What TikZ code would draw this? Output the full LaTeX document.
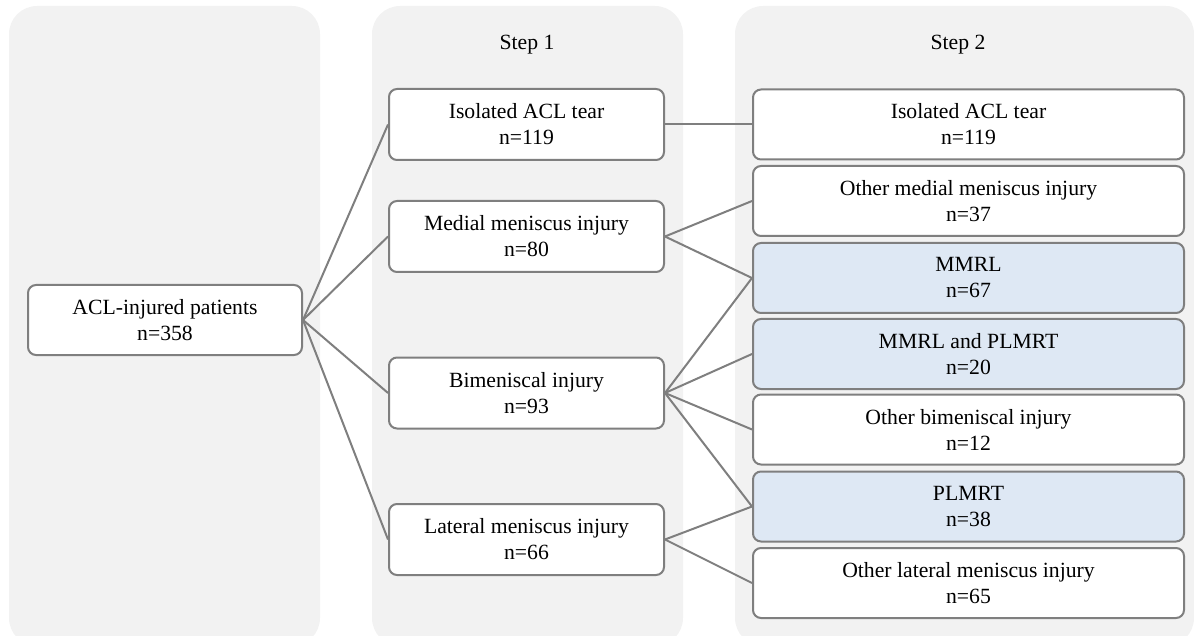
\documentclass[tikz,border=0pt]{standalone}
\usepackage{fontspec}
\setmainfont{Liberation Serif}
\definecolor{panelgray}{HTML}{F2F2F2}
\definecolor{linegray}{HTML}{7F7F7F}
\definecolor{pickblue}{HTML}{DEE8F4}
\tikzset{
  panel/.style={fill=panelgray, draw=none, rounded corners=28pt},
  box/.style={draw=linegray, line width=2pt, fill=white, rounded corners=8pt,
    align=center, inner sep=0pt, font=\fontsize{21.7}{26}\selectfont},
  bluebox/.style={box, fill=pickblue},
  link/.style={draw=linegray, line width=2pt}
}
\begin{document}
\begin{tikzpicture}[x=1pt,y=-1pt]
            \useasboundingbox (0,0) rectangle (1194,636);
            \begin{scope}
            \clip (0,0) rectangle (1194,636);
            \path [panel] (9,6) rectangle (320,646);
            \path [panel] (372,6) rectangle (683,646);
            \path [panel] (735,6) rectangle (1194,646);
            \end{scope}
            \node [font=\fontsize{21.7}{26}\selectfont] (title1) at (527,45) {Step 1};
            \node [font=\fontsize{21.7}{26}\selectfont] (title2) at (958,45) {Step 2};
            % all patients
            \node [box, minimum width=274pt, minimum height=70pt] (all) at (165,320) {ACL-injured patients\\n=358};
            % step 1
            \node [box, minimum width=275pt, minimum height=71pt] (iso) at (526.5,124.5) {Isolated ACL tear\\n=119};
            \node [box, minimum width=275pt, minimum height=71pt] (med) at (526.5,236.5) {Medial meniscus injury\\n=80};
            \node [box, minimum width=275pt, minimum height=71pt] (bim) at (526.5,393) {Bimeniscal injury\\n=93};
            \node [box, minimum width=275pt, minimum height=71pt] (lat) at (526.5,539.5) {Lateral meniscus injury\\n=66};
            % step 2
            \node [box, minimum width=431pt, minimum height=70pt] (isob) at (968.5,124.5) {Isolated ACL tear\\n=119};
            \node [box, minimum width=431pt, minimum height=70pt] (omed) at (968.5,201) {Other medial meniscus injury\\n=37};
            \node [bluebox, minimum width=431pt, minimum height=70pt] (mmrl) at (968.5,278) {MMRL\\n=67};
            \node [bluebox, minimum width=431pt, minimum height=70pt] (both) at (968.5,354) {MMRL and PLMRT\\n=20};
            \node [box, minimum width=431pt, minimum height=70pt] (obim) at (968.5,429.5) {Other bimeniscal injury\\n=12};
            \node [bluebox, minimum width=431pt, minimum height=70pt] (plm) at (968.5,506.5) {PLMRT\\n=38};
            \node [box, minimum width=431pt, minimum height=70pt] (olat) at (968.5,583) {Other lateral meniscus injury\\n=65};
            % links
            \draw [link] (all.east) -- (iso.west);
            \draw [link] (all.east) -- (med.west);
            \draw [link] (all.east) -- (bim.west);
            \draw [link] (all.east) -- (lat.west);
            \draw [link] (iso.east) -- (isob.west);
            \draw [link] (med.east) -- (omed.west);
            \draw [link] (med.east) -- (mmrl.west);
            \draw [link] (bim.east) -- (mmrl.west);
            \draw [link] (bim.east) -- (both.west);
            \draw [link] (bim.east) -- (obim.west);
            \draw [link] (bim.east) -- (plm.west);
            \draw [link] (lat.east) -- (plm.west);
            \draw [link] (lat.east) -- (olat.west);
        \end{tikzpicture}
\end{document}
